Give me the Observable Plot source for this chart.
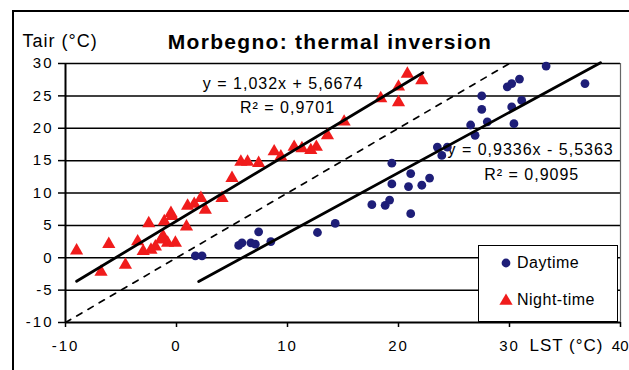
<!DOCTYPE html>
<html><head><meta charset="utf-8">
<script src="https://cdn.jsdelivr.net/npm/d3@7"></script>
<script src="https://cdn.jsdelivr.net/npm/@observablehq/plot@0.6"></script>
<style>
body{margin:0;background:#fff;}
#wrap{position:relative;width:629px;height:370px;overflow:hidden;font-family:"Liberation Sans",Arial,sans-serif;}
#chart{position:absolute;left:0;top:0;}
#frame{position:absolute;left:12px;top:10px;width:640px;height:400px;border-top:2px solid #000;border-left:2px solid #000;}
#legend{position:absolute;left:478px;top:245px;width:138px;height:75px;background:#fff;border:1.5px solid #000;}
#legend .item{position:absolute;left:20px;display:flex;align-items:center;font-size:16px;letter-spacing:0.5px;color:#000;}
#legend svg{margin-right:4px;}
</style></head>
<body><div id="wrap"><div id="chart"></div><div id="frame"></div><div id="legend"></div></div>
<script>
// Night-time observations: LST (°C) and Tair (°C)
const nightLST  = [-9.0,-6.8,-6.1,-4.6,-3.5,-3.0,-2.5,-2.3,-1.9,-1.4,-1.2,-0.8,-1.1,-0.5,-0.4,-0.1,0.9,1.0,1.6,2.2,2.6,4.1,5.0,5.8,6.4,7.4,8.8,9.4,10.6,11.3,12.1,12.6,13.6,15.1,18.4,20.0,20.0,20.8,22.1];
const nightTair = [ 1.1,-2.2, 2.1,-1.1, 2.5, 1.0, 5.3, 1.2, 1.7, 2.8, 3.3, 2.3, 5.6, 6.9, 6.4, 2.3,4.8,8.0,8.3,9.2,7.4,9.2,12.3,14.8,14.8,14.6,16.4,15.6,17.1,16.9,16.6,17.1,18.9,21.0,24.6,24.0,26.4,28.4,27.4];
// Daytime observations
const dayLST  = [1.7,2.3,5.6,5.9,6.7,7.1,7.4,8.5,12.7,14.3,17.6,18.8,19.2,19.4,19.4,20.9,21.1,21.1,22.1,22.8,23.5,23.9,24.4,26.5,26.9,27.5,27.5,28.0,29.8,30.2,30.9,30.2,31.1,30.4,33.3,36.8];
const dayTair = [0.3,0.3,1.9,2.3,2.3,2.1,4.0,2.5,3.9,5.3,8.2,8.1,8.9,11.4,14.6,11.0,13.0,6.8,11.2,12.3,17.1,15.8,17.1,20.5,18.9,22.9,25.0,21.0,26.4,26.9,27.6,23.3,24.3,20.7,29.6,26.9];
// Linear fits: [slope, intercept], LST range of the fitted line
const nightFit = [1.032, 5.6674];
const nightFitRange = [-9, 22.2];
const dayFit = [0.9336, -5.5363];
const dayFitRange = [2, 38.2];
const oneToOneRange = [-10, 30];
// Labels
const seriesNames = ["Daytime", "Night-time"];
const nightEq = ["y = 1,032x + 5,6674", "R² = 0,9701"];
const dayEq = ["y = 0,9336x - 5,5363", "R² = 0,9095"];
const xTicks = [-10, 0, 10, 20, 30, 40];
const yTicks = [-10, -5, 0, 5, 10, 15, 20, 25, 30];
const gridY = [-5, 0, 5, 10, 15, 20, 25, 30];

const dayColor = "#1e1e78", nightColor = "#f01c1c";
const night = nightLST.map((x, i) => ({x, y: nightTair[i]}));
const day = dayLST.map((x, i) => ({x, y: dayTair[i]}));
const fitLine = (f, r) => r.map(x => ({x, y: f[0] * x + f[1]}));

const chart = Plot.plot({
  width: 629, height: 370,
  marginLeft: 65, marginRight: 9, marginTop: 63, marginBottom: 48,
  x: {domain: [-10, 40]},
  y: {domain: [-10, 30]},
  style: {fontFamily: "'Liberation Sans', Arial, sans-serif", background: "transparent", color: "#000"},
  marks: [
    Plot.ruleY(gridY, {stroke: "#000", strokeWidth: 1.5}),
    Plot.ruleX([40], {stroke: "#666", strokeWidth: 1.2}),
    Plot.ruleY([-10], {stroke: "#000", strokeWidth: 2}),
    Plot.ruleX([-10], {stroke: "#000", strokeWidth: 2}),
    Plot.axisY({ticks: yTicks, tickSize: 7, tickPadding: 5, fontSize: 15, tickFormat: d => String(d), label: null, stroke: "#000", strokeWidth: 1.5}),
    Plot.axisX({ticks: xTicks, tickSize: 5, tickPadding: 13, fontSize: 15, tickFormat: d => String(d), label: null, stroke: "#000", strokeWidth: 1.5}),
    Plot.text([nightEq[0]], {x: () => 9.6, y: () => 26.8, fontSize: 16}),
    Plot.text([nightEq[1]], {x: () => 10.0, y: () => 23.2, fontSize: 16}),
    Plot.text([dayEq[0]], {x: () => 31.9, y: () => 16.6, fontSize: 16}),
    Plot.text([dayEq[1]], {x: () => 32.0, y: () => 12.8, fontSize: 16}),
    Plot.line(oneToOneRange, {x: d => d, y: d => d, stroke: "#000", strokeWidth: 1.7, strokeDasharray: "6,7"}),
    Plot.dot(day, {x: "x", y: "y", r: 4.4, fill: dayColor, symbol: "circle"}),
    Plot.dot(night, {x: "x", y: "y", r: 4.9, fill: nightColor, symbol: "triangle"}),
    Plot.line(fitLine(nightFit, nightFitRange), {x: "x", y: "y", stroke: "#000", strokeWidth: 2.8}),
    Plot.line(fitLine(dayFit, dayFitRange), {x: "x", y: "y", stroke: "#000", strokeWidth: 2.8}),
    Plot.text(["Morbegno: thermal inversion"], {frameAnchor: "top", dx: -13, dy: -21, lineAnchor: "middle", fontSize: 21, fontWeight: "bold"}),
    Plot.text(["Tair (°C)"], {frameAnchor: "top-left", textAnchor: "start", dx: -43, dy: -22, lineAnchor: "middle", fontSize: 18}),
    Plot.text(["LST (°C)"], {frameAnchor: "bottom-right", textAnchor: "end", dx: -17, dy: 23, lineAnchor: "middle", fontSize: 17})
  ]
});
document.getElementById("chart").appendChild(chart);
const svg = d3.select(chart);
svg.selectAll('g[aria-label="y-axis tick label"] text').attr("letter-spacing", "2px");
svg.selectAll('g[aria-label="x-axis tick label"] text').attr("letter-spacing", "2px");
svg.selectAll('g[aria-label="text"] text').attr("letter-spacing", "1px");
svg.selectAll('g[aria-label="text"] text').filter(function() { return this.textContent.startsWith("Morbegno"); }).attr("letter-spacing", "1.3px");
// keep the last x tick label ("40") inside the picture
const xl = svg.selectAll('g[aria-label="x-axis tick label"] text').nodes();
const last = xl[xl.length - 1];
if (last) { last.setAttribute("letter-spacing", "0px"); last.setAttribute("text-anchor", "end"); last.setAttribute("dx", "8"); }

// Legend
const legend = document.getElementById("legend");
const sym = [
  `<svg width="14" height="14"><circle cx="7" cy="7" r="4.4" fill="${dayColor}"/></svg>`,
  `<svg width="14" height="14"><path d="${d3.symbol(d3.symbolTriangle, Math.PI * 4.9 * 4.9)()}" transform="translate(7,8)" fill="${nightColor}"/></svg>`
];
seriesNames.forEach((name, i) => {
  const it = document.createElement("div");
  it.className = "item";
  it.style.top = (i === 0 ? 8 : 45) + "px";
  it.innerHTML = sym[i] + `<span>${name}</span>`;
  legend.appendChild(it);
});
</script>
</body></html>
